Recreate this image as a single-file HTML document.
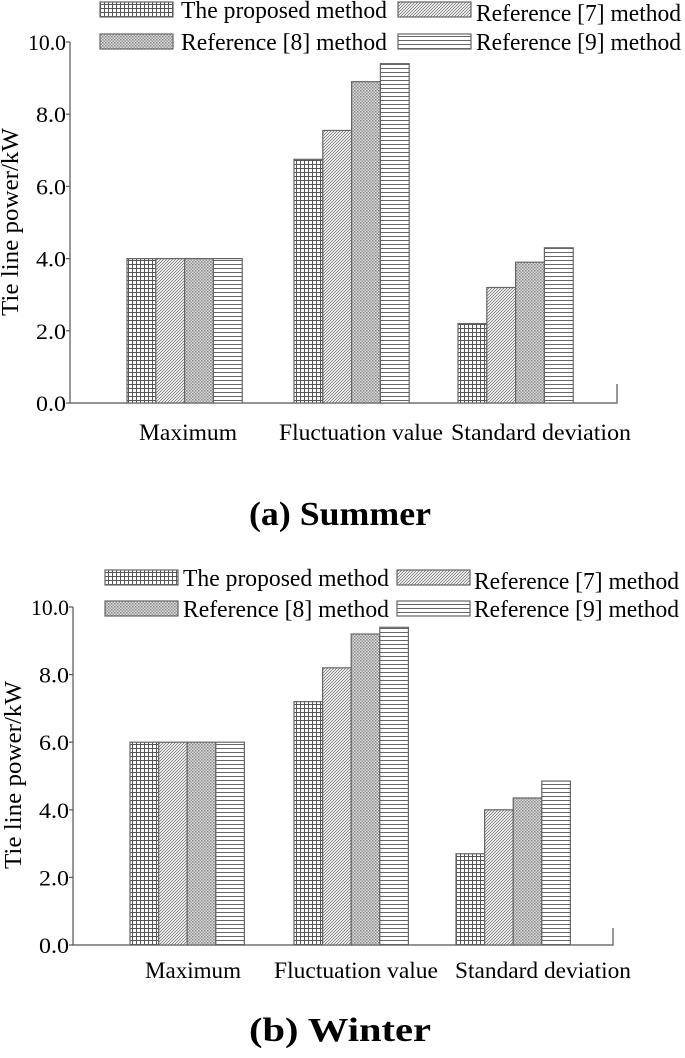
<!DOCTYPE html>
<html><head><meta charset="utf-8"><style>
html,body{margin:0;padding:0;background:#fff;}
svg{display:block;font-family:"Liberation Serif",serif;}
</style></head><body>
<svg id="fig" width="685" height="1058" viewBox="0 0 685 1058" xmlns="http://www.w3.org/2000/svg">
<defs>
<pattern id="p-grid" patternUnits="userSpaceOnUse" width="4" height="4"><rect width="4" height="4" fill="#fff"/><path d="M0 0.5H4M0.5 0V4" stroke="#555" stroke-width="1"/></pattern>
<pattern id="p-diag" patternUnits="userSpaceOnUse" width="3" height="3"><rect width="3" height="3" fill="#fff"/><path d="M0 3L3 0M-1 1L1 -1M2 4L4 2" stroke="#777" stroke-width="0.8"/></pattern>
<pattern id="p-dots" patternUnits="userSpaceOnUse" width="3" height="3"><rect width="3" height="3" fill="#ddd"/><rect width="1.5" height="1.5" fill="#888"/><rect x="1.5" y="1.5" width="1.5" height="1.5" fill="#999"/></pattern>
<pattern id="p-horiz" patternUnits="userSpaceOnUse" width="4" height="4"><rect width="4" height="4" fill="#fff"/><path d="M0 0.5H4" stroke="#666" stroke-width="1"/></pattern>
</defs>
</svg>
<script>
const categories = ["Maximum","Fluctuation value","Standard deviation"];
const seriesNames = ["The proposed method","Reference [7] method","Reference [8] method","Reference [9] method"];
const summerValues = [[4.0,6.75,2.2],[4.0,7.55,3.2],[4.0,8.9,3.9],[4.0,9.4,4.3]];
const winterValues = [[6.0,7.2,2.7],[6.0,8.2,4.0],[6.0,9.2,4.35],[6.0,9.4,4.85]];
const tickLabels = ["0.0","2.0","4.0","6.0","8.0","10.0"];
const tickValues = [0,2,4,6,8,10];

const NS="http://www.w3.org/2000/svg";
const svg=document.getElementById('fig');
const fills=["url(#p-grid)","url(#p-diag)","url(#p-dots)","url(#p-horiz)"];
function mk(tag,attrs,parent){const e=document.createElementNS(NS,tag);for(const k in attrs)e.setAttribute(k,attrs[k]);(parent||svg).appendChild(e);return e;}

function drawChart(cfg,values,prefix){
  const g=mk('g',{});
  
  
  const y=v=>cfg.y0-(v/10)*(cfg.y0-cfg.y10);
  const ax=mk('path',{d:`M${cfg.ax} ${cfg.y10}V${cfg.y0}H${cfg.axEnd}V${cfg.endTick}`,fill:'none',stroke:'#555','stroke-width':1.2},g);
  
  
  tickValues.forEach((tv,i)=>{
    const ty=y(tv);
    const tk=mk('line',{x1:cfg.ax-4,x2:cfg.ax,y1:ty,y2:ty,stroke:'#555','stroke-width':1.2},g);
    
    
    const t=mk('text',{x:cfg.ax-4,y:ty+8,'text-anchor':'end','font-size':22,textLength:tv>=10?38:30,lengthAdjust:'spacingAndGlyphs'},g);
    t.textContent=tickLabels[i];
    
    
  });
  const yt=mk('text',{transform:`translate(${cfg.ax-52},${cfg.titleMid}) rotate(-90)`,'text-anchor':'middle','font-size':24,textLength:188,lengthAdjust:'spacingAndGlyphs'},g);
  yt.textContent="Tie line power/kW";
  
  
  categories.forEach((c,ci)=>{
    const gx=cfg.groupX[ci];
    for(let s=0;s<4;s++){
      const v=values[s][ci];
      const r=mk('rect',{x:gx+s*cfg.bw,y:y(v),width:cfg.bw,height:y(0)-y(v),fill:fills[s],stroke:'#666','stroke-width':1.2},g);
      
      
    }
    const t=mk('text',{x:cfg.labelX[ci],y:cfg.labelY,'text-anchor':'middle','font-size':23,textLength:cfg.labelW[ci],lengthAdjust:'spacingAndGlyphs'},g);
    t.textContent=c;
    
    
  });
  seriesNames.forEach((n,i)=>{
    const col=i%2,row=Math.floor(i/2);
    const bx=cfg.legBox[col],by=cfg.legRow[row];
    const r=mk('rect',{x:bx,y:by,width:73,height:15,fill:fills[i],stroke:'#666','stroke-width':1.2},g);
    
    
    const t=mk('text',{x:cfg.legText[col],y:by+16+(col==1&&row==0?3:0),'font-size':24,textLength:col==0?206:205,lengthAdjust:'spacingAndGlyphs'},g);
    t.textContent=n;
    
    
  });
  const tt=mk('text',{x:340,y:cfg.titleY,'text-anchor':'middle','font-size':34,'font-weight':'bold',textLength:182,lengthAdjust:'spacingAndGlyphs'},g);
  tt.textContent=cfg.title;
  
  
}

drawChart({ax:70,axEnd:617,endTick:384,y0:403,y10:42,bw:28.8,groupX:[127,294,458],labelX:[188,361,541],labelW:[98,164,180],labelY:440,
  legBox:[100,398],legText:[181,476],legRow:[2,34],title:"(a) Summer",titleY:525,titleMid:222},summerValues,'summer');
drawChart({ax:73,axEnd:613,endTick:928,y0:945,y10:607,bw:28.6,groupX:[130,294,456],labelX:[193,356,543],labelW:[96,164,176],labelY:978,
  legBox:[105,397],legText:[183,474],legRow:[570,601],title:"(b) Winter",titleY:1041,titleMid:775},winterValues,'winter');
</script>
</body></html>
